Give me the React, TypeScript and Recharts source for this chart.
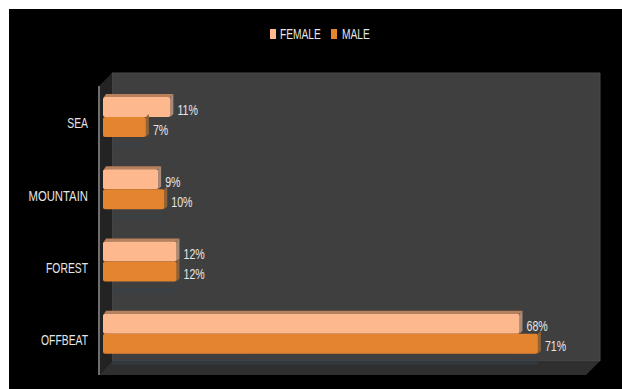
import React from "react";
import { BarChart, Bar, XAxis, YAxis, Legend, LabelList, Customized } from "recharts";

const categories = ["SEA", "MOUNTAIN", "FOREST", "OFFBEAT"];
const femaleValues = [11, 9, 12, 68];
const maleValues = [7, 10, 12, 71];

const rows = categories.map((name, i) => ({
  name,
  female: femaleValues[i],
  male: maleValues[i],
}));

const FONT = "'Liberation Sans', sans-serif";
const TEXT_COLOR = "#e6e6e6";
const DEPTH = 3;

// Back wall, side wall and floor of the 3D-style plot box.
function Room() {
  return (
    <g>
      <polygon points="112,73 600,73 600,361 112,361" fill="#3f3f3f" stroke="#4a4a4a" strokeWidth={1} />
      <polygon points="99,86 112,73 112,361 99,375" fill="#232323" />
      <polygon points="99,375 112,361 600,361 586,375" fill="#2f2f2f" />
      <line x1={99} y1={86} x2={99} y2={375} stroke="#6e6e6e" strokeWidth={2} />
    </g>
  );
}

// Extruded horizontal bar: front face and end face, plus a top face on the
// upper bar of a pair. The lower bar throws a faint shadow on the wall below.
function Bar3D(props: any) {
  const { x, y, width, height, fill, topFill, endFill, shadow } = props;
  const r = x + width;
  return (
    <g>
      {shadow && (
        <rect x={112} y={y + height + 6} width={Math.max(0, r - 112)} height={5} fill="#37424c" opacity={0.45} />
      )}
      {topFill && (
        <polygon
          points={`${x + 1},${y} ${x + DEPTH},${y - DEPTH} ${r + DEPTH},${y - DEPTH} ${r},${y}`}
          fill={topFill}
        />
      )}
      <polygon
        points={`${r},${y} ${r + DEPTH},${y - DEPTH} ${r + DEPTH},${y + height - DEPTH} ${r},${y + height}`}
        fill={endFill}
      />
      <rect x={x} y={y} width={width} height={height} rx={2} fill={fill} />
    </g>
  );
}

// Condensed text: the faces available have no narrow cut, so squeeze horizontally.
function NarrowText({ x, y, anchor, squeeze, children }: any) {
  return (
    <g transform={`translate(${x},${y}) scale(${squeeze},1)`}>
      <text textAnchor={anchor} dominantBaseline="central" fill={TEXT_COLOR} fontSize={14} fontFamily={FONT}>
        {children}
      </text>
    </g>
  );
}

function CategoryTick({ y, payload }: any) {
  return (
    <NarrowText x={88} y={y + 6.5} anchor="end" squeeze={payload.value === "MOUNTAIN" ? 0.81 : 0.74}>
      {payload.value}
    </NarrowText>
  );
}

function ValueLabel({ x, y, width, height, value }: any) {
  return (
    <NarrowText x={x + width + 7} y={y + height / 2 + 3} anchor="start" squeeze={0.76}>
      {`${value}%`}
    </NarrowText>
  );
}

function LegendRow({ payload }: any) {
  const slots = [
    { swatch: 270, label: 280 },
    { swatch: 331, label: 342 },
  ];
  return (
    <svg width={622} height={60} style={{ display: "block" }}>
      {(payload || []).map((entry: any, i: number) => (
        <g key={entry.value}>
          <rect x={slots[i].swatch} y={29} width={6} height={10} fill={entry.color} />
          <NarrowText x={slots[i].label} y={34} anchor="start" squeeze={0.73}>
            {entry.value}
          </NarrowText>
        </g>
      ))}
    </svg>
  );
}

export default function App() {
  return (
    <div style={{ position: "absolute", left: 0, top: 0, width: 622, height: 389, background: "#fff" }}>
      <div style={{ position: "absolute", left: 9, top: 9, width: 613, height: 380, background: "#000" }} />
      <div style={{ position: "absolute", left: 0, top: 0 }}>
        <BarChart
          width={622}
          height={389}
          layout="vertical"
          data={rows}
          barGap={0}
          barCategoryGap={16}
          margin={{ top: 21, right: 29, bottom: 19, left: 0 }}
        >
          <Customized component={Room} />
          <XAxis type="number" domain={[0, 80]} hide />
          <YAxis
            type="category"
            dataKey="name"
            width={103}
            axisLine={false}
            tickLine={false}
            interval={0}
            tick={<CategoryTick />}
          />
          <Legend
            content={<LegendRow />}
            wrapperStyle={{ left: 0, top: 0, width: 622, height: 60 }}
            layout="horizontal"
            align="left"
            verticalAlign="top"
          />
          <Bar
            dataKey="female"
            name="FEMALE"
            fill="#fdb88e"
            barSize={20}
            isAnimationActive={false}
            shape={(p: any) => <Bar3D {...p} topFill="#b9805c" endFill="#a88a78" />}
          >
            <LabelList dataKey="female" content={<ValueLabel />} />
          </Bar>
          <Bar
            dataKey="male"
            name="MALE"
            fill="#e5842f"
            barSize={20}
            isAnimationActive={false}
            shape={(p: any) => <Bar3D {...p} shadow endFill="#8f6238" />}
          >
            <LabelList dataKey="male" content={<ValueLabel />} />
          </Bar>
        </BarChart>
      </div>
    </div>
  );
}
